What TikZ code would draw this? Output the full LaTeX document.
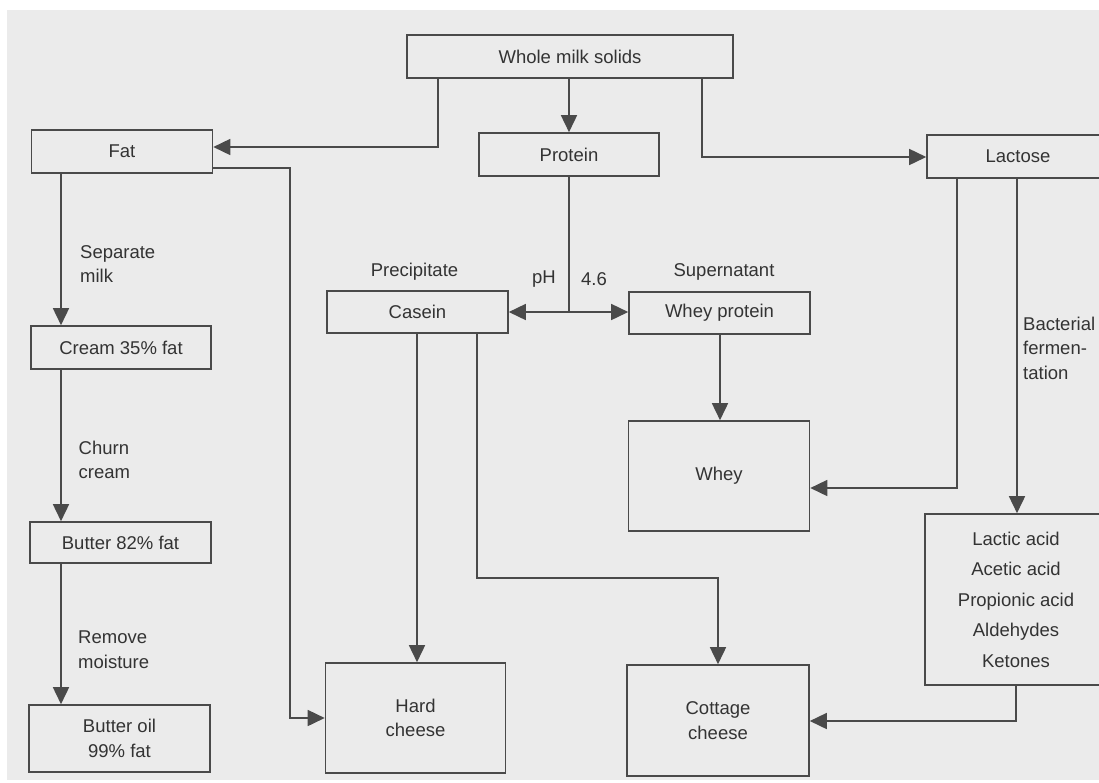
\documentclass[tikz,border=0pt]{standalone}
\usepackage{fontspec}
\setmainfont{Liberation Sans}
\usetikzlibrary{arrows.meta}
\definecolor{lncol}{HTML}{4A4A4A}
\definecolor{txcol}{HTML}{333333}
\definecolor{bgcol}{HTML}{EBEBEB}
\begin{document}
\begin{tikzpicture}[x=1pt,y=-1pt,
  box/.style={draw=lncol, line width=1.6pt, rectangle, inner sep=0pt, text=txcol, align=center,
    font=\fontsize{18.5}{24.5}\selectfont},
  lbl/.style={text=txcol, inner sep=0pt, align=left, font=\fontsize{18.5}{24.5}\selectfont},
  conn/.style={draw=lncol, line width=1.6pt},
  arr/.style={conn, -{Triangle[length=17pt,width=16pt]}}]
\useasboundingbox (0,0) rectangle (1099,782);
\clip (0,0) rectangle (1099,782);
\fill[bgcol] (7,10) rectangle (1099,780);

% boxes
\node[box, minimum width=326pt, minimum height=43pt] (wms) at (570,56.5) {Whole milk solids};
\node[box, minimum width=181pt, minimum height=43pt] (fat) at (122,151.5) {Fat};
\node[box, minimum width=180pt, minimum height=43pt] (protein) at (569,154.5) {Protein};
\node[box, minimum width=182pt, minimum height=43pt] (lactose) at (1018,156.5) {Lactose};
\node[box, minimum width=181pt, minimum height=42pt] (casein) at (417.5,312) {Casein};
\node[box, minimum width=181pt, minimum height=42pt] (wheyp) at (719.5,313) {Whey protein};
\node[box, minimum width=180pt, minimum height=43pt] (cream) at (121,347.5) {Cream 35\% fat};
\node[box, minimum width=181pt, minimum height=41pt] (butter) at (120.5,542.5) {Butter 82\% fat};
\node[box, minimum width=181pt, minimum height=67pt] (oil) at (119.5,738.5) {Butter oil\\99\% fat};
\node[box, minimum width=180pt, minimum height=110pt] (hard) at (415.5,718) {Hard\\cheese};
\node[box, minimum width=181pt, minimum height=110pt] (whey) at (719,476) {Whey};
\node[box, minimum width=182pt, minimum height=111pt] (cottage) at (718,720.5) {Cottage\\cheese};
\node[box, minimum width=182pt, minimum height=171pt] (acids) at (1016,599.5)
  {Lactic acid\\[6pt]Acetic acid\\[6pt]Propionic acid\\[6pt]Aldehydes\\[6pt]Ketones};

% labels
\node[lbl, anchor=west] (lsep) at (80,264) {Separate\\milk};
\node[lbl, anchor=west] (lchurn) at (78.5,460) {Churn\\cream};
\node[lbl, anchor=west] (lrem) at (78,649.5) {Remove\\moisture};
\node[lbl, anchor=west] (lbact) at (1023,348) {Bacterial\\fermen-\\tation};
\node[lbl] (lprec) at (414.5,272) {Precipitate};
\node[lbl] (lph) at (544,279) {pH};
\node[lbl] (lph2) at (594,279) {4.6};
\node[lbl] (lsup) at (724,272) {Supernatant};

% helper coordinates
\coordinate (c1) at (438,147);
\coordinate (c3) at (702,157);
\coordinate (c4) at (290,168);
\coordinate (c6) at (61,0);
\coordinate (c7) at (569,312);
\coordinate (c8) at (417,0);
\coordinate (c9) at (477,578);
\coordinate (c11) at (720,0);
\coordinate (c12) at (957,488);
\coordinate (c13) at (1017,0);
\coordinate (c14) at (1016,721);

% connectors
\draw[arr] (wms.south -| c1) |- (fat.east |- c1);
\draw[arr] (protein.north |- wms.south) -- (protein.north);
\draw[arr] (wms.south -| c3) |- (lactose.west |- c3);
\draw[arr] (fat.east |- c4) -- (c4) |- (hard.west);
\draw[arr] (fat.south -| c6) -- (cream.north -| c6);
\draw[arr] (cream.south -| c6) -- (butter.north -| c6);
\draw[arr] (butter.south -| c6) -- (oil.north -| c6);
\draw[conn] (protein.south -| c7) -- (c7);
\draw[arr] (c7) -- (casein.east |- c7);
\draw[arr] (c7) -- (wheyp.west |- c7);
\draw[arr] (casein.south -| c8) -- (hard.north -| c8);
\draw[arr] (casein.south -| c9) -- (c9) -| (cottage.north);
\draw[arr] (wheyp.south -| c11) -- (whey.north -| c11);
\draw[arr] (lactose.south -| c12) |- (whey.east |- c12);
\draw[arr] (lactose.south -| c13) -- (acids.north -| c13);
\draw[arr] (acids.south -| c14) |- (cottage.east |- c14);
\end{tikzpicture}
\end{document}
